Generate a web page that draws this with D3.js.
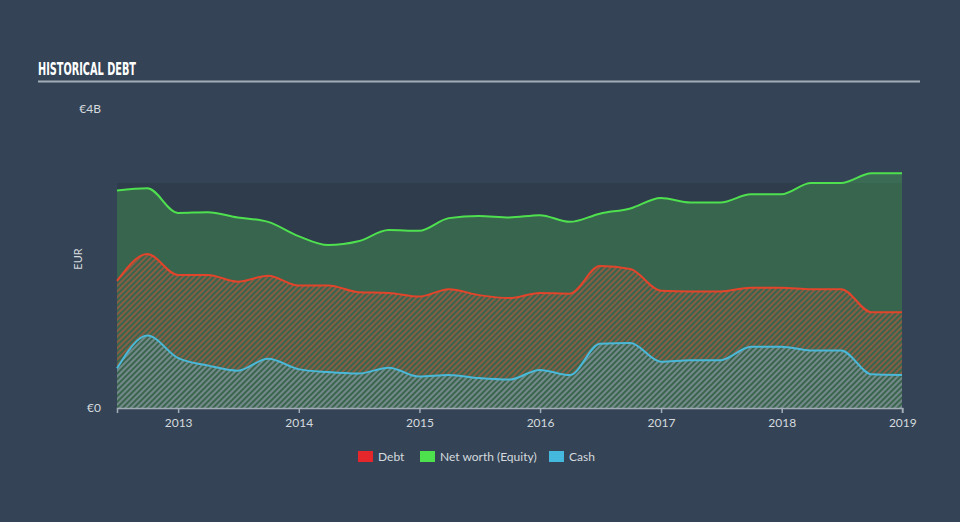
<!DOCTYPE html>
<html>
<head>
<meta charset="utf-8">
<script src="https://cdn.jsdelivr.net/npm/d3@7"></script>
<style>
  html, body { margin: 0; padding: 0; background: #344456; }
  svg { display: block; }
</style>
</head>
<body>
<svg id="chart" width="960" height="522"></svg>
<script>
// ---- Data (EUR billions), quarterly ----
const dates = [
  "2012-06-30","2012-09-30","2012-12-31","2013-03-31","2013-06-30","2013-09-30","2013-12-31",
  "2014-03-31","2014-06-30","2014-09-30","2014-12-31","2015-03-31","2015-06-30","2015-09-30",
  "2015-12-31","2016-03-31","2016-06-30","2016-09-30","2016-12-31","2017-03-31","2017-06-30",
  "2017-09-30","2017-12-31","2018-03-31","2018-06-30","2018-09-30","2018-12-31"
];
const equity = [2.91,2.94,2.61,2.62,2.55,2.49,2.30,2.18,2.23,2.38,2.37,2.54,2.57,2.55,
  2.58,2.49,2.60,2.67,2.81,2.75,2.75,2.86,2.86,3.01,3.01,3.14,3.14];
const debt = [1.70,2.06,1.78,1.78,1.69,1.77,1.64,1.64,1.55,1.54,1.49,1.59,1.51,1.47,
  1.54,1.53,1.90,1.86,1.57,1.56,1.56,1.61,1.61,1.59,1.59,1.28,1.28];
const cash = [0.53,0.97,0.67,0.57,0.50,0.66,0.52,0.48,0.46,0.54,0.42,0.44,0.40,0.38,
  0.51,0.44,0.86,0.87,0.62,0.64,0.64,0.82,0.82,0.77,0.77,0.45,0.44];
const yTickLabels = ["€0", "€4B"];
const yTickValues = [0, 4];
const xTickYears = [2013, 2014, 2015, 2016, 2017, 2018, 2019];
const legendItems = ["Debt", "Net worth (Equity)", "Cash"];

(function () {
const svg = d3.select("#chart");
const parse = d3.timeParse("%Y-%m-%d");
const rows = dates.map((d, i) => ({ date: parse(d), equity: equity[i], debt: debt[i], cash: cash[i] }));

const pLeft = 117, pRight = 902, pTop = 109, pBottom = 408;
const x = d3.scaleTime().domain([parse(dates[0]), parse(dates[dates.length - 1])]).range([pLeft, pRight]);
const y = d3.scaleLinear().domain([0, 4]).range([pBottom, pTop]);

const colors = { debt: "#e2452b", equity: "#4fe04f", cash: "#4ab8d8" };
const legendColors = ["#e5262b", "#4de24d", "#44b9dd"];

svg.append("rect").attr("width", 960).attr("height", 522).attr("fill", "#344456");

const defs = svg.append("defs");
function hatch(id, color, opacity) {
  const p = defs.append("pattern").attr("id", id).attr("patternUnits", "userSpaceOnUse")
    .attr("width", 4).attr("height", 4).attr("patternTransform", "rotate(45)");
  p.append("rect").attr("x", 0).attr("y", 0).attr("width", 2).attr("height", 4)
    .attr("fill", color).attr("fill-opacity", opacity);
}
hatch("hDebt", "#d8553a", 0.5);
hatch("hCash", "#5ab8d4", 0.5);

svg.append("text").attr("x", 38).attr("y", 75).text("HISTORICAL DEBT")
  .attr("fill", "#ffffff").attr("font-family", "'Liberation Sans Narrow','DejaVu Sans Condensed',sans-serif")
  .attr("font-weight", "bold").attr("font-size", 17)
  .attr("textLength", 98).attr("lengthAdjust", "spacingAndGlyphs");
svg.append("line").attr("x1", 38).attr("x2", 920).attr("y1", 81.5).attr("y2", 81.5)
  .attr("stroke", "#a3adb8").attr("stroke-width", 2);

svg.append("rect").attr("x", pLeft).attr("y", 183).attr("width", pRight - pLeft).attr("height", pBottom - 183)
  .attr("fill", "#2f3c4c");

const curve = d3.curveMonotoneX;
const areaOf = key => d3.area().curve(curve).x(d => x(d.date)).y0(y(0)).y1(d => y(d[key]));
const lineOf = key => d3.line().curve(curve).x(d => x(d.date)).y(d => y(d[key]));

svg.append("path").datum(rows).attr("d", areaOf("equity")).attr("fill", colors.equity).attr("fill-opacity", 0.25);
svg.append("path").datum(rows).attr("d", areaOf("debt")).attr("fill", "url(#hDebt)");
svg.append("path").datum(rows).attr("d", areaOf("cash")).attr("fill", "url(#hCash)");

["equity", "debt", "cash"].forEach(k => {
  svg.append("path").datum(rows).attr("d", lineOf(k)).attr("fill", "none")
    .attr("stroke", colors[k]).attr("stroke-width", 2);
});

const xAxis = d3.axisBottom(x)
  .tickValues(xTickYears.map(yr => new Date(yr, 0, 1)))
  .tickFormat(d3.timeFormat("%Y")).tickSizeOuter(0).tickSize(5);
const gx = svg.append("g").attr("transform", `translate(0,${pBottom})`).call(xAxis);
gx.select(".domain").attr("stroke", "#a3adb8").attr("stroke-width", 1.5);
gx.selectAll(".tick line").attr("stroke", "#a3adb8").attr("stroke-width", 1.5);
gx.selectAll(".tick text").attr("fill", "#d5dade").attr("font-size", 12)
  .attr("font-family", "Lato, 'Open Sans', sans-serif").attr("dy", "0.95em");

const yAxis = d3.axisLeft(y).tickValues(yTickValues).tickFormat((d, i) => yTickLabels[i]).tickSize(0);
const gy = svg.append("g").attr("transform", `translate(${pLeft - 13},0)`).call(yAxis);
gy.select(".domain").remove();
gy.selectAll(".tick text").attr("fill", "#d5dade").attr("font-size", 12)
  .attr("font-family", "Lato, 'Open Sans', sans-serif");

svg.append("text").attr("transform", "translate(82,259) rotate(-90)").attr("text-anchor", "middle")
  .attr("fill", "#d5dade").attr("font-size", 11).attr("font-family", "Lato, 'Open Sans', sans-serif")
  .text("EUR");

const legendX = [358, 420, 549];
legendItems.forEach((t, i) => {
  const g = svg.append("g").attr("transform", `translate(${legendX[i]},451)`);
  g.append("rect").attr("width", 15).attr("height", 11).attr("fill", legendColors[i]);
  g.append("text").attr("x", 20).attr("y", 10).text(t).attr("fill", "#d5dade")
    .attr("font-size", 12).attr("font-family", "Lato, 'Open Sans', sans-serif");
});
})();
</script>
</body>
</html>
